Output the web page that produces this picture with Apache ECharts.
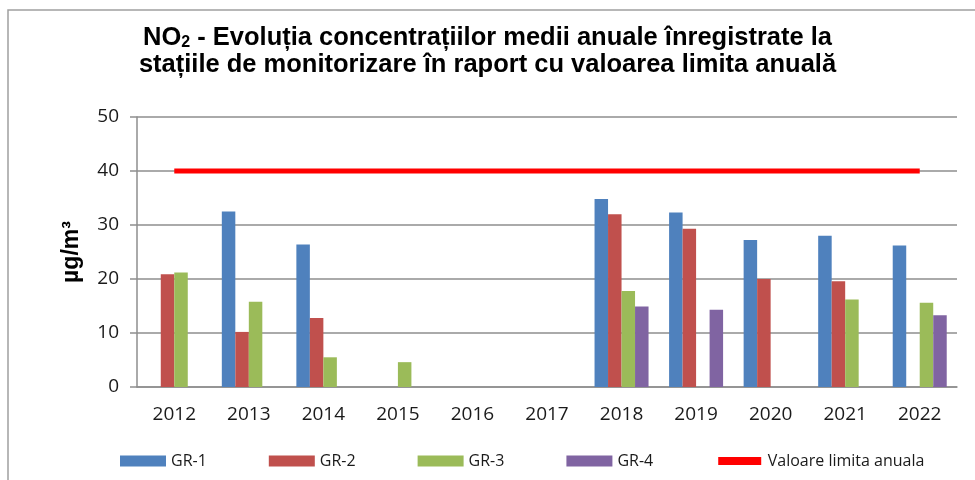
<!DOCTYPE html>
<html>
<head>
<meta charset="utf-8">
<script src="https://cdn.jsdelivr.net/npm/echarts@6/dist/echarts.min.js"></script>
<style>
  html, body { margin: 0; padding: 0; background: #fff; }
  #chart { width: 975px; height: 480px; }
</style>
</head>
<body>
<div id="chart"></div>
<script>
// date (µg/m3), null = fara date
var years = ['2012', '2013', '2014', '2015', '2016', '2017', '2018', '2019', '2020', '2021', '2022'];
var gr1 = [null, 32.5, 26.4, null, null, null, 34.8, 32.3, 27.2, 28.0, 26.2];
var gr2 = [20.9, 10.2, 12.8, null, null, null, 32.0, 29.3, 20.0, 19.6, null];
var gr3 = [21.2, 15.8, 5.5, 4.6, null, null, 17.8, null, null, 16.2, 15.6];
var gr4 = [null, null, null, null, null, null, 14.9, 14.3, null, null, 13.3];
var limita = [40, 40, 40, 40, 40, 40, 40, 40, 40, 40, 40];
var yTicks = [0, 10, 20, 30, 40, 50];

var myChart = echarts.init(document.getElementById('chart'));

var barSeries = function (name, data, color) {
    return {
        name: name,
        type: 'bar',
        data: data,
        barWidth: 13.5,
        barGap: '0%',
        itemStyle: { color: color }
    };
};

var option = {
    animation: false,
    backgroundColor: '#fff',
    graphic: [{
        type: 'rect',
        shape: { x: 8, y: 10, width: 1000, height: 520 },
        style: { fill: 'none', stroke: '#a0a0a0', lineWidth: 1.5 },
        silent: true
    }],
    title: {
        text: '{a|NO}{s|2}{a| - Evoluția concentrațiilor medii anuale înregistrate la}\n{a|stațiile de monitorizare în raport cu valoarea limita anuală}',
        left: 'center',
        top: 24,
        padding: 0,
        textStyle: {
            rich: {
                a: { fontFamily: 'Liberation Sans', fontWeight: 'bold', fontSize: 25.5, lineHeight: 27, color: '#000' },
                s: { fontFamily: 'Liberation Sans', fontWeight: 'bold', fontSize: 16, lineHeight: 10, verticalAlign: 'bottom', color: '#000' }
            }
        }
    },
    legend: {
        left: 120,
        top: 453,
        padding: 0,
        itemWidth: 46,
        itemHeight: 11,
        itemGap: 62,
        textStyle: { fontFamily: 'Open Sans', fontSize: 16, color: '#1a1a1a' },
        data: [
            { name: 'GR-1', icon: 'rect' },
            { name: 'GR-2', icon: 'rect' },
            { name: 'GR-3', icon: 'rect' },
            { name: 'GR-4', icon: 'rect' },
            { name: 'Valoare limita anuala', icon: 'rect', itemStyle: { color: '#FF0000', borderColor: '#fff', borderWidth: 3 } }
        ]
    },
    grid: { left: 137, right: 18, top: 117, bottom: 93 },
    xAxis: {
        type: 'category',
        data: years,
        axisLine: { lineStyle: { color: '#8e8e8e', width: 1.5 } },
        axisTick: { show: false },
        axisLabel: { fontFamily: 'Open Sans', fontSize: 19, color: '#1a1a1a', margin: 18 }
    },
    yAxis: {
        type: 'value',
        min: yTicks[0],
        max: yTicks[yTicks.length - 1],
        interval: 10,
        name: 'µg/m³',
        nameLocation: 'middle',
        nameGap: 54,
        nameTextStyle: { fontFamily: 'Liberation Sans', fontWeight: 'bold', fontSize: 23, color: '#000' },
        axisLine: { show: true, lineStyle: { color: '#8e8e8e', width: 1.5 } },
        axisTick: { show: true, length: 7, lineStyle: { color: '#8e8e8e', width: 1.5 } },
        axisLabel: { fontFamily: 'Open Sans', fontSize: 19, color: '#1a1a1a', margin: 18 },
        splitLine: { lineStyle: { color: '#8e8e8e', width: 1.5 } }
    },
    series: [
        barSeries('GR-1', gr1, '#4F81BD'),
        barSeries('GR-2', gr2, '#C0504D'),
        barSeries('GR-3', gr3, '#9BBB59'),
        barSeries('GR-4', gr4, '#8064A2'),
        {
            name: 'Valoare limita anuala',
            type: 'line',
            data: limita,
            symbol: 'none',
            lineStyle: { color: '#FF0000', width: 5 },
            itemStyle: { color: '#FF0000' },
            z: 5
        }
    ]
};

myChart.setOption(option);
</script>
</body>
</html>
